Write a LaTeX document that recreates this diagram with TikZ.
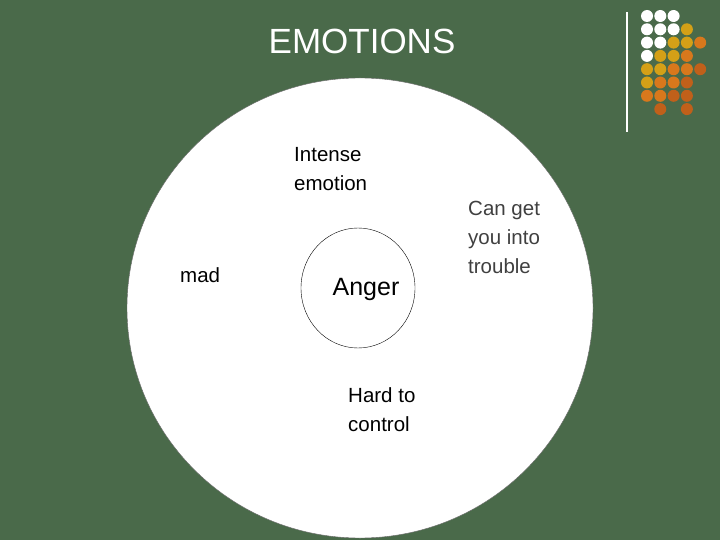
\documentclass[tikz,border=0pt]{standalone}
\usepackage{fontspec}
\setmainfont{Liberation Sans}
\def\myN{N}
\begin{document}
\begin{tikzpicture}[x=1pt,y=-1pt,
  lbl/.style={align=left,font=\fontsize{20.5}{29}\selectfont,inner sep=0pt,anchor=north west},
  dot/.style={circle,inner sep=0pt,minimum size=12pt}]
\definecolor{bg}{HTML}{4A6A4A}
\definecolor{cW}{HTML}{FFFFFF}
\definecolor{cY}{HTML}{D4A017}
\definecolor{cO}{HTML}{D8781C}
\definecolor{cD}{HTML}{C0601A}
\fill[bg] (0,0) rectangle (720,540);
\useasboundingbox (0,0) rectangle (720,540);
\draw[fill=white,draw=black!60] (360,308) ellipse [x radius=233,y radius=230];
\draw[black] (358,288) ellipse [x radius=57,y radius=60];
\node[font=\fontsize{35}{40}\selectfont,text=white] (title) at (362,41) {EMOTIONS};
\node[lbl] (intense) at (294,147) {Intense\\emotion};
\node[lbl] (mad) at (180,267) {mad};
\node[font=\fontsize{25}{30}\selectfont] (anger) at (366,289) {Anger};
\node[lbl] (hard) at (348,387) {Hard to\\control};
\node[lbl,text=black!75] (trouble) at (468,201) {Can get\\you into\\trouble};
\draw[white,line width=1.2pt] (627,12) -- (627,132);
\foreach \row [count=\r from 0] in {{W,W,W,N,N},{W,W,W,Y,N},{W,W,Y,Y,O},{W,Y,Y,O,N},{Y,Y,O,O,D},{Y,O,O,D,N},{O,O,D,D,N},{N,D,N,D,N}}{
  \foreach \c [count=\k from 0] in \row {
    \ifx\c\myN\else
      \node[dot,fill=c\c] (d\r\k) at ({647+13.3*\k},{16+13.3*\r}) {};
    \fi
  }
}
\end{tikzpicture}
\end{document}
